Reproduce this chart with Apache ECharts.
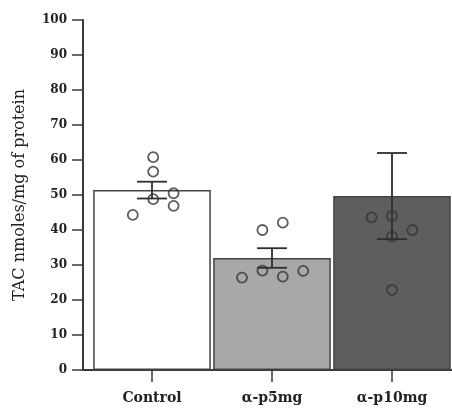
<!DOCTYPE html>
<html>
<head>
<meta charset="utf-8">
<script src="https://cdn.jsdelivr.net/npm/echarts@6/dist/echarts.min.js"></script>
<style>html,body{margin:0;padding:0;background:#fff}#c{width:452px;height:410px}</style>
</head>
<body>
<div id="c"></div>
<script>
const categories = ['Control', 'α-p5mg', 'α-p10mg'];
const means = [51.4, 32.0, 49.7];
const sems = [2.4, 2.8, 12.3];
const barColors = ['#ffffff', '#a8a8a8', '#5e5e5e'];
// individual points: [category index + jitter, value]
const controlPoints = [[0.01, 60.8], [0.01, 56.7], [0.01, 48.8], [0.18, 50.5], [0.18, 46.9], [-0.16, 44.3]];
const p5Points = [[0.92, 40.0], [1.09, 42.1], [0.92, 28.4], [1.09, 26.7], [1.26, 28.3], [0.75, 26.4]];
const p10Points = [[1.83, 43.6], [2.0, 44.0], [2.0, 38.1], [2.17, 40.0], [2.0, 22.9]];
const yTicks = [0, 10, 20, 30, 40, 50, 60, 70, 80, 90, 100];

const chart = echarts.init(document.getElementById('c'), null, {renderer: 'canvas'});
const axisColor = '#3a3a3a';
const serif = 'DejaVu Serif';
const option = {
  animation: false,
  backgroundColor: '#fff',
  grid: [
    {left: 92, right: -7.5, top: 20, bottom: 40},
    {left: 83, right: -7.5, top: 20, bottom: 40}
  ],
  xAxis: [
    {
      type: 'category', gridIndex: 0, data: categories,
      axisLine: {show: false},
      axisTick: {show: true, alignWithLabel: true, length: 12, lineStyle: {color: axisColor, width: 1.5}},
      axisLabel: {margin: 21, color: '#222', fontFamily: serif, fontWeight: 'bold', fontSize: 14}
    },
    {
      type: 'value', gridIndex: 0, min: -0.5, max: 2.5, show: false
    },
    {
      type: 'value', gridIndex: 1, min: 0, max: 1,
      axisLine: {show: true, onZero: false, lineStyle: {color: axisColor, width: 2}},
      axisTick: {show: false}, axisLabel: {show: false}, splitLine: {show: false}
    }
  ],
  yAxis: [
    {
      type: 'value', gridIndex: 0, min: 0, max: 100, interval: 10, offset: 9,
      name: 'TAC nmoles/mg of protein', nameLocation: 'middle', nameGap: 55, nameRotate: 90,
      nameTextStyle: {fontFamily: serif, fontSize: 16, color: '#222'},
      axisLine: {show: true, onZero: false, lineStyle: {color: axisColor, width: 2}},
      axisTick: {show: true, length: 11, lineStyle: {color: axisColor, width: 1.5}},
      axisLabel: {margin: 16, color: '#222', fontFamily: serif, fontSize: 12, fontWeight: 'bold',
        formatter: v => yTicks.includes(v) ? String(v) : ''},
      splitLine: {show: false}
    },
    {type: 'value', gridIndex: 1, min: 0, max: 100, show: false}
  ],
  series: [
    {
      type: 'bar', xAxisIndex: 0, yAxisIndex: 0, barCategoryGap: '2%',
      data: means.map((m, i) => ({value: m, itemStyle: {color: barColors[i]}})),
      itemStyle: {borderColor: '#444', borderWidth: 1.5},
      z: 2
    },
    {
      type: 'custom', xAxisIndex: 0, yAxisIndex: 0, z: 3,
      data: means.map((m, i) => [i, m - sems[i], m + sems[i]]),
      renderItem: function (params, api) {
        const lo = api.coord([api.value(0), api.value(1)]);
        const hi = api.coord([api.value(0), api.value(2)]);
        const hw = 15;
        const st = {stroke: '#2e2e2e', lineWidth: 1.8};
        return {type: 'group', children: [
          {type: 'line', shape: {x1: lo[0], y1: lo[1], x2: hi[0], y2: hi[1]}, style: st},
          {type: 'line', shape: {x1: lo[0] - hw, y1: lo[1], x2: lo[0] + hw, y2: lo[1]}, style: st},
          {type: 'line', shape: {x1: hi[0] - hw, y1: hi[1], x2: hi[0] + hw, y2: hi[1]}, style: st}
        ]};
      }
    },
    ...[controlPoints, p5Points, p10Points].map(pts => ({
      type: 'scatter', xAxisIndex: 1, yAxisIndex: 0, z: 4,
      symbol: 'circle', symbolSize: 10,
      itemStyle: {color: 'rgba(0,0,0,0)', borderColor: '#333', borderWidth: 1.8},
      data: pts
    }))
  ]
};
chart.setOption(option);
</script>
</body>
</html>
